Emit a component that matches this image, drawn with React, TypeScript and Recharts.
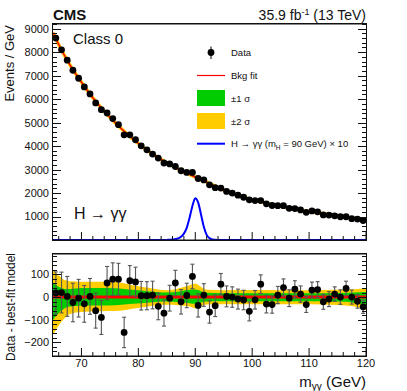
import React from 'react'
import {
  ComposedChart,
  Line,
  Scatter,
  Area,
  XAxis,
  YAxis,
  ErrorBar,
  ReferenceLine,
} from 'recharts'

const FONT = '"Liberation Sans", Arial, Helvetica, sans-serif'
const INK = '#111'

// 1 GeV bins, 65-120
const massBins = [
  65.5, 66.5, 67.5, 68.5, 69.5, 70.5, 71.5, 72.5, 73.5, 74.5, 75.5, 76.5, 77.5, 78.5,
  79.5, 80.5, 81.5, 82.5, 83.5, 84.5, 85.5, 86.5, 87.5, 88.5, 89.5, 90.5, 91.5, 92.5,
  93.5, 94.5, 95.5, 96.5, 97.5, 98.5, 99.5, 100.5, 101.5, 102.5, 103.5, 104.5, 105.5,
  106.5, 107.5, 108.5, 109.5, 110.5, 111.5, 112.5, 113.5, 114.5, 115.5, 116.5, 117.5,
  118.5, 119.5,
]
const events = [
  8600, 8100, 7660, 7230, 6890, 6520, 6220, 5840, 5550, 5410, 5170, 4910, 4480, 4480,
  4270, 4010, 3840, 3660, 3490, 3280, 3240, 3130, 2950, 2880, 2880, 2620, 2560, 2350,
  2230, 2210, 2070, 2000, 1910, 1820, 1710, 1680, 1680, 1540, 1470, 1460, 1460,
  1350, 1340, 1280, 1180, 1240, 1200, 1070, 1060, 1030, 990, 990, 910,
  890, 830,
]
const statErr = [
  93, 90, 88, 85, 83, 81, 79, 77, 75, 73, 72, 70, 67, 67,
  65, 63, 62, 61, 59, 57, 57, 56, 54, 54, 54, 51, 50, 49,
  48, 47, 46, 45, 44, 43, 42, 41, 41, 39, 38, 38, 38,
  37, 37, 36, 35, 35, 35, 33, 33, 32, 32, 32, 31,
  30, 29,
]
const residuals = [
  18, 20, 3, -24, -5, -30, 3, -60, -90, 62, 79, 79, -156, 72,
  67, 6, 6, 9, -41, -71, -5, 62, -21, 7, 91, -37, 9, -66,
  -38, 57, 3, 0, -9, -13, -63, -12, 57, -31, -33, 9, 42,
  -5, 35, 13, -33, 31, 33, -21, -9, 13, 0, 38, 0,
  -19, -43,
]

// background fit
const fitMass = [65, 66, 67, 68, 70, 72, 74, 76, 78, 80, 82, 84, 86, 88, 90, 92, 95, 98, 100, 103, 106, 110, 113, 116, 120]
const fitEvents = [8830, 8330, 7870, 7450, 6720, 6060, 5490, 4970, 4520, 4110, 3750, 3430, 3150, 2900, 2680, 2470, 2130, 1860, 1720, 1540, 1380, 1210, 1100, 990, 860]

// signal x10
const sigMass = [65, 84, 85, 86, 87, 87.5, 88, 88.5, 89, 89.5, 90, 90.5, 91, 91.5, 92, 92.5, 93, 94, 95, 120]
const sigEvents = [0, 0, 5, 20, 70, 140, 270, 520, 950, 1450, 1780, 1600, 1100, 560, 220, 80, 25, 5, 0, 0]

// uncertainty bands of the fit (residual panel)
const bandMass = [65, 66, 67, 68, 70, 73, 76, 79, 82, 85, 87, 89, 90, 91, 92, 95, 100, 105, 110, 115, 118, 120]
const band1Lo = [-100, -70, -50, -42, -38, -37, -36, -30, -24, -20, -22, -27, -30, -24, -20, -18, -18, -18, -18, -20, -25, -35]
const band1Hi = [63, 45, 36, 36, 40, 40, 39, 32, 25, 20, 24, 32, 33, 26, 19, 17, 17, 17, 17, 18, 20, 22]
const band2Lo = [-166, -125, -95, -75, -66, -63, -62, -52, -40, -34, -36, -42, -50, -40, -33, -32, -32, -32, -32, -35, -42, -58]
const band2Hi = [120, 95, 75, 70, 68, 68, 66, 52, 40, 30, 38, 52, 60, 45, 32, 30, 31, 30, 30, 32, 35, 38]

const xMajor = [70, 80, 90, 100, 110, 120]
const xStep = 2
const topYMajor = [1000, 2000, 3000, 4000, 5000, 6000, 7000, 8000, 9000]
const topYStep = 200
const resYMajor = [-200, -100, 0, 100]
const resYStep = 20

const TOP_Y = [0, 9200]
const RES_Y = [-260, 190]

// panel geometry (px)
const PLOT_L = 53
const PLOT_R = 366
const TOP_BOX = [24, 240]
const RES_BOX = [254, 356]

const range = (a: number, b: number, s: number) => {
  const out: number[] = []
  for (let v = a; v <= b + 1e-9; v += s) out.push(Math.round(v * 100) / 100)
  return out
}
const xTicks = range(66, 120, xStep)
const topYTicks = range(TOP_Y[0], TOP_Y[1], topYStep)
const resYTicks = range(RES_Y[0], 180, resYStep)

const dataPoints = massBins.map((m, i) => ({ x: m, y: events[i], err: statErr[i] }))
const resPoints = massBins.map((m, i) => ({ x: m, y: residuals[i], err: statErr[i] }))
const fitLine = fitMass.map((m, i) => ({ x: m, y: fitEvents[i] }))
const sigLine = sigMass.map((m, i) => ({ x: m, y: sigEvents[i] }))
const bands = bandMass.map((m, i) => ({
  x: m,
  b1: [band1Lo[i], band1Hi[i]],
  b2: [band2Lo[i], band2Hi[i]],
}))

const makeXTick = (side: 'top' | 'bottom', labels: boolean) => (p: any) => {
  const v = p.payload.value
  const major = xMajor.includes(v)
  const len = major ? 8 : 4
  const dir = side === 'bottom' ? -1 : 1
  return (
    <g>
      <line x1={p.x} x2={p.x} y1={p.y} y2={p.y + dir * len} stroke={INK} strokeWidth={1} />
      {labels && major && (
        <text x={p.x} y={p.y + 11} textAnchor="middle" fontSize={11} fill={INK} fontFamily={FONT}>
          {v}
        </text>
      )}
    </g>
  )
}

const makeYLabel = (majors: number[]) => (p: any) => {
  const v = p.payload.value
  if (!majors.includes(v)) return <g />
  return (
    <text x={p.x - 4} y={p.y} dy="0.36em" textAnchor="end" fontSize={11} fill={INK} fontFamily={FONT}>
      {v < 0 ? `\u2212${Math.abs(v)}` : v}
    </text>
  )
}

const dot = (p: any) => <circle cx={p.cx} cy={p.cy} r={3.4} fill="#000" />

const axisLine = { stroke: INK, strokeWidth: 1 }
const bare = { tickSize: 0, tickMargin: 0, tickLine: false, interval: 0 as const }

function TopPanel() {
  return (
    <ComposedChart width={407} height={245} margin={{ top: 23, right: 41, bottom: 4, left: 0 }}>
      <XAxis dataKey="x" type="number" domain={[65, 120]} ticks={xTicks} height={1} axisLine={axisLine} {...bare} tick={makeXTick('bottom', false)} />
      <XAxis xAxisId="top" orientation="top" type="number" domain={[65, 120]} ticks={xTicks} height={1} axisLine={axisLine} {...bare} tick={makeXTick('top', false)} />
      <YAxis type="number" domain={TOP_Y} ticks={topYTicks} width={53} axisLine={false} {...bare} tick={makeYLabel(topYMajor)} />
      <Line data={fitLine} dataKey="y" type="monotone" stroke="#ffcc00" strokeWidth={3.5} dot={false} isAnimationActive={false} />
      <Line data={fitLine} dataKey="y" type="monotone" stroke="#ff0000" strokeWidth={1.4} dot={false} isAnimationActive={false} />
      <Line data={sigLine} dataKey="y" type="monotone" stroke="#0000ff" strokeWidth={2} dot={false} isAnimationActive={false} />
      <Scatter data={dataPoints} dataKey="y" shape={dot} isAnimationActive={false}>
        <ErrorBar dataKey="err" direction="y" width={2} stroke="#555" strokeWidth={1} />
      </Scatter>
    </ComposedChart>
  )
}

function ResidualPanel() {
  return (
    <ComposedChart width={407} height={146} margin={{ top: 8, right: 41, bottom: 34, left: 0 }}>
      <XAxis dataKey="x" type="number" domain={[65, 120]} ticks={xTicks} height={1} axisLine={axisLine} {...bare} tick={makeXTick('bottom', true)} />
      <XAxis xAxisId="top" orientation="top" type="number" domain={[65, 120]} ticks={xTicks} height={1} axisLine={axisLine} {...bare} tick={makeXTick('top', false)} />
      <YAxis type="number" domain={RES_Y} ticks={resYTicks} width={53} axisLine={false} {...bare} tick={makeYLabel(resYMajor)} />
      <Area data={bands} dataKey="b2" type="monotone" fill="#ffcc00" fillOpacity={1} stroke="none" isAnimationActive={false} />
      <Area data={bands} dataKey="b1" type="monotone" fill="#00cc00" fillOpacity={1} stroke="none" isAnimationActive={false} />
      <ReferenceLine y={0} stroke="#ff0000" strokeWidth={3} />
      <Scatter data={resPoints} dataKey="y" shape={dot} isAnimationActive={false}>
        <ErrorBar dataKey="err" direction="y" width={2} stroke="#555" strokeWidth={1.1} />
      </Scatter>
    </ComposedChart>
  )
}

// frame box (css border) for one panel
function FrameBox({ box }: { box: number[] }) {
  return (
    <div
      style={{
        position: 'absolute',
        left: PLOT_L - 1,
        top: box[0] - 1,
        width: PLOT_R - PLOT_L + 2,
        height: box[1] - box[0] + 2,
        border: `1px solid ${INK}`,
        boxSizing: 'border-box',
        pointerEvents: 'none',
      }}
    />
  )
}

// inward y ticks on both sides of one panel, as small css bars
function YTicks({ box, dom, ticks, majors }: { box: number[]; dom: number[]; ticks: number[]; majors: number[] }) {
  const py = (v: number) => box[1] - ((v - dom[0]) / (dom[1] - dom[0])) * (box[1] - box[0])
  return (
    <>
      {ticks.map(v => {
        const len = majors.includes(v) ? 8 : 4
        const y = Math.round(py(v)) - 0.5
        const bar = { position: 'absolute' as const, top: y, height: 1, width: len, background: INK }
        return (
          <React.Fragment key={v}>
            <div style={{ ...bar, left: PLOT_L }} />
            <div style={{ ...bar, left: PLOT_R - len }} />
          </React.Fragment>
        )
      })}
    </>
  )
}

function Overlay() {
  const lx = 197
  const tx = 231
  const t = { fontFamily: FONT, fill: INK }
  return (
    <svg width={407} height={391} style={{ position: 'absolute', left: 0, top: 0, pointerEvents: 'none' }}>
      <text x={53} y={20} fontSize={15} fontWeight="bold" {...t}>CMS</text>
      <text x={366} y={20} fontSize={14} textAnchor="end" {...t}>
        35.9 fb<tspan dy={-5} fontSize={9}>-1</tspan><tspan dy={5}> (13 TeV)</tspan>
      </text>
      <text x={73} y={44} fontSize={15} {...t}>Class 0</text>
      <text x={74} y={219} fontSize={16} {...t}>H → γγ</text>

      <text transform="translate(14,25) rotate(-90)" textAnchor="end" fontSize={13} {...t}>Events / GeV</text>
      <text transform="translate(15,253) rotate(-90)" textAnchor="end" fontSize={12} {...t}>Data - best-fit model</text>
      <text x={366} y={387} textAnchor="end" fontSize={15} {...t}>
        m<tspan dy={3} fontSize={10}>γγ</tspan><tspan dy={-3}> (GeV)</tspan>
      </text>

      {/* legend */}
      <line x1={211} x2={211} y1={46.5} y2={59} stroke="#000" strokeWidth={1} />
      <circle cx={211} cy={52.5} r={3.4} fill="#000" />
      <text x={tx} y={56} fontSize={9.5} {...t}>Data</text>
      <line x1={lx} x2={225} y1={75.5} y2={75.5} stroke="#ff0000" strokeWidth={1.2} />
      <text x={tx} y={79} fontSize={9.5} {...t}>Bkg fit</text>
      <rect x={lx} y={90} width={28} height={16} fill="#00cc00" />
      <text x={tx} y={101.5} fontSize={9.5} {...t}>±1 σ</text>
      <rect x={lx} y={113} width={28} height={16} fill="#ffcc00" />
      <text x={tx} y={124.5} fontSize={9.5} {...t}>±2 σ</text>
      <line x1={lx} x2={225} y1={143.7} y2={143.7} stroke="#0000ff" strokeWidth={2} />
      <text x={tx} y={147} fontSize={9.5} {...t}>
        H → γγ (m<tspan dy={3} fontSize={6.5}>H</tspan><tspan dy={-3}> = 90 GeV) × 10</tspan>
      </text>
    </svg>
  )
}

export default function App() {
  return (
    <div style={{ position: 'absolute', left: 0, top: 0, width: 407, height: 391, background: '#fff' }}>
      <div style={{ position: 'absolute', left: 0, top: 0 }}>
        <TopPanel />
      </div>
      <div style={{ position: 'absolute', left: 0, top: 245 }}>
        <ResidualPanel />
      </div>
      <FrameBox box={TOP_BOX} />
      <FrameBox box={RES_BOX} />
      <YTicks box={TOP_BOX} dom={TOP_Y} ticks={topYTicks} majors={topYMajor} />
      <YTicks box={RES_BOX} dom={RES_Y} ticks={resYTicks} majors={resYMajor} />
      <Overlay />
    </div>
  )
}
